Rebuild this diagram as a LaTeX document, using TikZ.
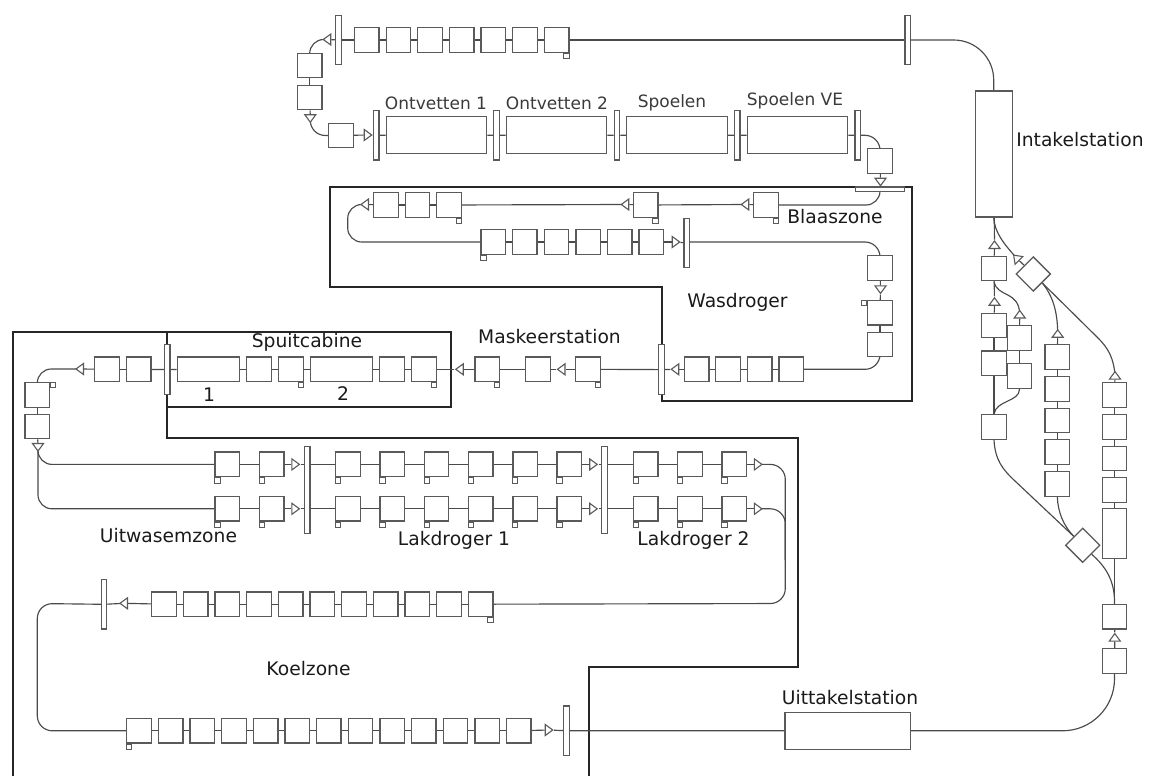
\documentclass[tikz,border=0pt]{standalone}
\usepackage{fontspec}
\setmainfont{DejaVu Sans}
\usetikzlibrary{shapes.geometric,backgrounds,calc}
\definecolor{boxline}{HTML}{5A5A5A}
\definecolor{connline}{HTML}{4A4A4A}
\definecolor{txt}{HTML}{1A1A1A}
\definecolor{txtb}{HTML}{3A3A3A}
\tikzset{
  bx/.style={draw=boxline,line width=1.35pt,fill=white,rectangle,inner sep=0pt,minimum width=24.5pt,minimum height=24.5pt},
  lng/.style={draw=boxline,line width=1.35pt,fill=white,rectangle,inner sep=0pt,minimum width=#1},
  vbar/.style={draw=boxline,line width=1.2pt,fill=white,rectangle,inner sep=0pt,minimum width=5.6pt,minimum height=49.5pt},
  tabbox/.style={draw=boxline,line width=1pt,fill=white,rectangle,inner sep=0pt,minimum size=5.2pt},
  tri/.style={draw=boxline,line width=1.1pt,fill=white,isosceles triangle,isosceles triangle stretches,inner sep=0pt,minimum height=7.5pt,minimum width=11pt},
  dia/.style={draw=boxline,line width=1.3pt,fill=white,diamond,aspect=1,inner sep=0pt,minimum width=34.6pt,minimum height=34.6pt},
  conn/.style={draw=connline,line width=1.15pt},
  frame/.style={draw=black!85,line width=2pt,line join=miter},
  lbl/.style={inner sep=0pt,text=txt,font=\fontsize{18.7}{22}\selectfont},
  lbltop/.style={inner sep=0pt,text=txtb,font=\fontsize{17}{20}\selectfont}
}
\begin{document}
\begin{tikzpicture}[x=1pt,y=-1pt]
\useasboundingbox (0,0) rectangle (1155,776);
% top row
\foreach \i in {0,...,6} \node[bx] (T\i) at ({366.8+31.63*\i},40) {};
\node[tabbox,anchor=north east] (Ttab) at (T6.south east) {};
\node[vbar] (BTL) at (338.3,40) {};
\node[vbar] (BTR) at (907.8,40) {};
\node[tri,rotate=180] (tT) at (328,39.5) {};
\node[bx] (L1) at (309.7,65.5) {};
\node[bx] (L2) at (309.7,97.5) {};
\node[tri,rotate=270] (tL) at (310.3,117.5) {};
\node[bx] (P0) at (341,135.5) {};
\node[tri,rotate=0] (tP) at (367,135) {};
% degreasing line
\node[vbar] (B1) at (376.2,135.3) {};
\node[lng=100.4pt,minimum height=37pt] (O1) at (436.5,135.2) {};
\node[vbar] (B2) at (496.5,135.3) {};
\node[lng=100.4pt,minimum height=37pt] (O2) at (556.5,135.2) {};
\node[vbar] (B3) at (617,135.3) {};
\node[lng=100.4pt,minimum height=37pt] (O3) at (677,135.2) {};
\node[vbar] (B4) at (737.2,135.3) {};
\node[lng=100.4pt,minimum height=37pt] (O4) at (797.5,135.2) {};
\node[vbar] (B5) at (857.8,135.3) {};
\node[bx] (Q0) at (880,161) {};
\node[tri,rotate=270] (tQ) at (880.5,181) {};
\node[draw=boxline,line width=1.2pt,fill=white,rectangle,inner sep=0pt,minimum width=49.4pt,minimum height=4.4pt] (HB) at (880,189.2) {};
% Blaaszone rows
\node[bx] (W1) at (766,205) {};
\node[tabbox,anchor=north east] (W1tab) at (W1.south east) {};
\node[tri,rotate=180] (tW1) at (746,204.5) {};
\node[bx] (W2) at (645.7,205) {};
\node[tabbox,anchor=north east] (W2tab) at (W2.south east) {};
\node[tri,rotate=180] (tW2) at (626,204.5) {};
\node[bx] (W3) at (449,205) {};
\node[tabbox,anchor=north east] (W3tab) at (W3.south east) {};
\node[bx] (W4) at (417.5,205) {};
\node[bx] (W5) at (386,205) {};
\node[tri,rotate=180] (tW5) at (365.7,204.5) {};
\foreach \i in {0,...,5} \node[bx] (X\i) at ({493.3+31.6*\i},242) {};
\node[tabbox,anchor=north west] (Xtab) at (X0.south west) {};
\node[tri,rotate=0] (tX) at (675,242) {};
\node[vbar] (BX) at (686.8,243) {};
\node[bx] (Y1) at (880,268) {};
\node[tri,rotate=270] (tY) at (880.5,288.7) {};
\node[bx] (Y2) at (880,312.7) {};
\node[tabbox,anchor=north east] (Y2tab) at (Y2.north west) {};
\node[bx] (Y3) at (880,344.5) {};
\foreach \i/\xx in {0/791.3,1/759.7,2/728,3/696.7} \node[bx] (Z\i) at (\xx,369.3) {};
\node[tri,rotate=180] (tZ) at (676,369.3) {};
\node[vbar] (BZ) at (661.3,369.6) {};
% Maskeerstation
\node[bx] (M1) at (588,369.3) {};
\node[tabbox,anchor=north east] (M1tab) at (M1.south east) {};
\node[tri,rotate=180] (tM1) at (562.2,369.3) {};
\node[bx] (M2) at (538,369.3) {};
\node[bx] (M3) at (487.3,369.3) {};
\node[tabbox,anchor=north east] (M3tab) at (M3.south east) {};
\node[tri,rotate=180] (tM3) at (460.5,369.3) {};
% Spuitcabine
\node[bx] (S6) at (424,369.3) {};
\node[tabbox,anchor=north east] (S6tab) at (S6.south east) {};
\node[bx] (S5) at (392,369.3) {};
\node[lng=62pt,minimum height=24.5pt] (S4) at (341.3,369.3) {};
\node[bx] (S3) at (291,369.3) {};
\node[tabbox,anchor=north east] (S3tab) at (S3.south east) {};
\node[bx] (S2) at (259,369.3) {};
\node[lng=62.4pt,minimum height=24.5pt] (S1) at (208.5,369.3) {};
\node[vbar] (BS) at (167.2,369.6) {};
\node[bx] (V1) at (138.7,369.3) {};
\node[bx] (V2) at (107,369.3) {};
\node[tri,rotate=180] (tV) at (80.7,369) {};
\node[bx] (D1) at (37.3,395) {};
\node[tabbox,anchor=north west] (D1tab) at (D1.north east) {};
\node[bx] (D2) at (37.3,426.5) {};
\node[tri,rotate=270] (tD) at (38,446.3) {};
% Uitwasem / Lakdroger rows
\foreach \r/\yy in {a/464.4,b/508.8} {
  \node[bx] (\r U1) at (227.3,\yy) {};
  \node[bx] (\r U2) at (271.7,\yy) {};
  \node[tabbox,anchor=north west] (\r U1tab) at (\r U1.south west) {};
  \node[tabbox,anchor=north west] (\r U2tab) at (\r U2.south west) {};
  \node[tri,rotate=0] (\r tU) at (294.7,\yy) {};
  \foreach \i in {0,...,5} {
    \node[bx] (\r L\i) at ({348+44.27*\i},\yy) {};
    \node[tabbox,anchor=north west] (\r Ltab\i) at (\r L\i.south west) {};
  }
  \node[tri,rotate=0] (\r tL) at (592.5,\yy) {};
  \foreach \i/\xx in {0/645.7,1/690,2/734.3} {
    \node[bx] (\r K\i) at (\xx,\yy) {};
    \node[tabbox,anchor=north west] (\r Ktab\i) at (\r K\i.south west) {};
  }
  \node[tri,rotate=0] (\r tK) at (757.2,\yy) {};
}
\node[draw=boxline,line width=1.2pt,fill=white,rectangle,inner sep=0pt,minimum width=5.6pt,minimum height=87.4pt] (BU) at (307.1,490) {};
\node[draw=boxline,line width=1.2pt,fill=white,rectangle,inner sep=0pt,minimum width=5.6pt,minimum height=87.4pt] (BL) at (604.3,490) {};
% Koelzone
\foreach \i in {0,...,10} \node[bx] (C\i) at ({164+31.67*\i},604.2) {};
\node[tabbox,anchor=north east] (Ctab) at (C10.south east) {};
\node[tri,rotate=180] (tC) at (124.7,603.3) {};
\node[vbar] (BC) at (103.9,604.3) {};
\foreach \i in {0,...,12} \node[bx] (E\i) at ({139+31.65*\i},730.8) {};
\node[tabbox,anchor=north west] (Etab) at (E0.south west) {};
\node[tri,rotate=0] (tE) at (548,730) {};
\node[vbar] (BE) at (566.4,730.7) {};
\node[lng=125.7pt,minimum height=37pt] (UI) at (847.9,730.8) {};
% right side
\node[lng=37pt,minimum height=126pt] (IN) at (993.7,154) {};
\node[tri,rotate=90] (tA) at (994.5,245.7) {};
\node[bx] (A) at (994,268.5) {};
\node[tri,rotate=135] (tN) at (1017,258.5) {};
\node[dia] (DA) at (1033.3,274) {};
\node[tri,rotate=90] (tB) at (994.5,302.5) {};
\node[bx] (LB) at (994,325.5) {};
\node[bx] (LC) at (994,363.3) {};
\node[tri,rotate=90] (tF) at (1019.7,315.2) {};
\node[bx] (F1) at (1019.5,338) {};
\node[bx] (F2) at (1019.5,376) {};
\node[bx] (LD) at (994,427) {};
\node[tri,rotate=90] (tG) at (1057.7,334.5) {};
\foreach \i/\yy in {0/357,1/389,2/420.5,3/452,4/484} \node[bx] (G\i) at (1057.3,\yy) {};
\node[tri,rotate=90] (tR) at (1115,376.3) {};
\foreach \i/\yy in {0/395,1/427,2/458.5,3/490} \node[bx] (R\i) at (1114.5,\yy) {};
\node[lng=24.5pt,minimum height=50pt] (RL) at (1114.5,533.3) {};
\node[dia] (DB) at (1082.7,545.3) {};
\node[bx] (RB1) at (1114.5,616.7) {};
\node[tri,rotate=90] (tRB) at (1114.8,638.3) {};
\node[bx] (RB0) at (1114.5,661) {};
% labels
\node[lbltop] (l1) at (436,103) {Ontvetten 1};
\node[lbltop] (l2) at (557,103) {Ontvetten 2};
\node[lbltop] (l3) at (672,103) {Spoelen};
\node[lbltop] (l4) at (795,101) {Spoelen VE};
\node[lbl] (l5) at (835,217) {Blaaszone};
\node[lbl] (l6) at (737.5,302) {Wasdroger};
\node[lbl] (l7) at (549.5,337) {Maskeerstation};
\node[lbl] (l8) at (307,342) {Spuitcabine};
\node[lbl] (l9) at (209,395) {1};
\node[lbl] (l10) at (343,394) {2};
\node[lbl] (l11) at (168.5,536) {Uitwasemzone};
\node[lbl] (l12) at (454,540) {Lakdroger 1};
\node[lbl] (l13) at (693.5,540) {Lakdroger 2};
\node[lbl] (l14) at (308.5,669) {Koelzone};
\node[lbl] (l15) at (850,698) {Uittakelstation};
\node[lbl] (l16) at (1080,140) {Intakelstation};
% corner helpers
\coordinate (cW) at (347.7,204.5);
\coordinate (cWb) at (347.7,242);
\coordinate (cY) at (880,242);
\coordinate (cC1) at (785.3,464.4);
\coordinate (cC2) at (785.3,508.8);
\coordinate (cC3) at (785.3,603.5);
\coordinate (cC4) at (785.3,560);
\coordinate (cL) at (37.3,603.5);
\coordinate (cLb) at (37.3,730.8);
\coordinate (cUa) at (38,464.4);
\coordinate (cUb) at (38,508.8);
\coordinate (cR1) at (1098,338);
\coordinate (cR2) at (1015,481);
\begin{scope}[on background layer]
  % thick frames
  \draw[frame] (661.7,286.7) -- (330,286.7) -- (330,186.7) -- (912,186.7) -- (912,401) -- (661.7,401) -- cycle;
  \draw[frame] (166.7,332.3) rectangle (451.3,406.7);
  \draw[frame] (12.6,776) -- (12.6,332.3) -- (166.7,332.3) -- (166.7,438.3) -- (798.3,438.3) -- (798.3,666.7) -- (589,666.7) -- (589,776);
  % top row
  \draw[conn] (BTR) -- (T6);
  \foreach \i [count=\j from 1] in {0,...,5} \draw[conn] (T\i) -- (T\j);
  \draw[conn] (T0) -- (BTL);
  \draw[conn] (BTL) -- (tT);
  \draw[conn,rounded corners=14pt] (tT.center) -| (L1);
  \draw[conn] (L1) -- (L2);
  \draw[conn] (L2) -- (tL);
  \draw[conn,rounded corners=15pt] (tL.center) |- (P0);
  \draw[conn] (P0) -- (tP);
  \draw[conn] (tP) -- (B1);
  \draw[conn] (B1) -- (O1);
  \draw[conn] (O1) -- (B2);
  \draw[conn] (B2) -- (O2);
  \draw[conn] (O2) -- (B3);
  \draw[conn] (B3) -- (O3);
  \draw[conn] (O3) -- (B4);
  \draw[conn] (B4) -- (O4);
  \draw[conn] (O4) -- (B5);
  \draw[conn,rounded corners=15pt] (B5.center) -| (Q0);
  \draw[conn] (Q0) -- (tQ);
  \draw[conn] (tQ) -- (HB);
  \draw[conn,rounded corners=14pt] (HB.center) |- (W1);
  \draw[conn] (W1) -- (tW1);
  \draw[conn] (tW1.center) -- (W2.center);
  \draw[conn] (W2) -- (tW2);
  \draw[conn] (tW2.center) -- (W3.center);
  \draw[conn] (W3) -- (W4);
  \draw[conn] (W4) -- (W5);
  \draw[conn] (W5) -- (tW5);
  \draw[conn,rounded corners=14pt] (tW5.center) -- (cW) -- (cWb) -- (X0.center);
  \foreach \i [count=\j from 1] in {0,...,4} \draw[conn] (X\i) -- (X\j);
  \draw[conn] (X5) -- (tX);
  \draw[conn] (tX) -- (BX);
  \draw[conn,rounded corners=15pt] (BX.center |- cY) -- (cY) -- (Y1.center);
  \draw[conn] (Y1) -- (tY);
  \draw[conn] (tY) -- (Y2);
  \draw[conn] (Y2) -- (Y3);
  \draw[conn,rounded corners=15pt] (Y3.center) |- (Z0.center);
  \foreach \i [count=\j from 1] in {0,...,2} \draw[conn] (Z\i) -- (Z\j);
  \draw[conn] (Z3) -- (tZ);
  \draw[conn] (tZ) -- (BZ);
  \draw[conn] (BZ) -- (M1);
  \draw[conn] (M1) -- (tM1);
  \draw[conn] (tM1) -- (M2);
  \draw[conn] (M2) -- (M3);
  \draw[conn] (M3) -- (tM3);
  \draw[conn] (tM3) -- (S6);
  \draw[conn] (S6) -- (S5);
  \draw[conn] (S5) -- (S4);
  \draw[conn] (S4) -- (S3);
  \draw[conn] (S3) -- (S2);
  \draw[conn] (S2) -- (S1);
  \draw[conn] (S1) -- (BS);
  \draw[conn] (BS) -- (V1);
  \draw[conn] (V1) -- (V2);
  \draw[conn] (V2) -- (tV);
  \draw[conn,rounded corners=14pt] (tV.center) -| (D1);
  \draw[conn] (D1) -- (D2);
  \draw[conn] (D2) -- (tD);
  \draw[conn,rounded corners=14pt] (tD.center) -- (cUa) -- (aU1.center);
  \draw[conn,rounded corners=14pt] (tD.center) -- (cUb) -- (bU1.center);
  \foreach \r in {a,b} {
    \draw[conn] (\r U1) -- (\r U2);
    \draw[conn] (\r U2) -- (\r tU);
    \draw[conn] (\r tU) -- (BU.west |- \r tU);
    \draw[conn] (BU.east |- \r tU) -- (\r L0);
    \foreach \i [count=\j from 1] in {0,...,4} \draw[conn] (\r L\i) -- (\r L\j);
    \draw[conn] (\r L5) -- (\r tL);
    \draw[conn] (\r tL) -- (BL.west |- \r tL);
    \draw[conn] (BL.east |- \r tL) -- (\r K0);
    \draw[conn] (\r K0) -- (\r K1);
    \draw[conn] (\r K1) -- (\r K2);
    \draw[conn] (\r K2) -- (\r tK);
  }
  \draw[conn,rounded corners=15pt] (atK.center) -- (cC1) -- (cC4);
  \draw[conn,rounded corners=15pt] (btK.center) -- (cC2) -- (cC3) -- (C10.center);
  \foreach \i [count=\j from 1] in {0,...,9} \draw[conn] (C\i) -- (C\j);
  \draw[conn] (C0) -- (tC);
  \draw[conn] (tC.center) -- (BC.center);
  \draw[conn,rounded corners=15pt] (BC.center) -- (cL) -- (cLb) -- (E0.center);
  \foreach \i [count=\j from 1] in {0,...,11} \draw[conn] (E\i) -- (E\j);
  \draw[conn] (E12) -- (tE);
  \draw[conn] (tE) -- (BE);
  \draw[conn] (BE) -- (UI);
  \draw[conn,rounded corners=52pt] (UI.center) -| (RB0.center);
  \draw[conn] (RB0) -- (tRB);
  \draw[conn] (tRB) -- (RB1);
  \draw[conn] (RB1) -- (RL);
  \draw[conn] (RL) -- (R3);
  \draw[conn] (R3) -- (R2);
  \draw[conn] (R2) -- (R1);
  \draw[conn] (R1) -- (R0);
  \draw[conn] (R0) -- (tR);
  \draw[conn] (tR.center) .. controls (1114,358) and (1108,348) .. (cR1) -- (DA.south east);
  \draw[conn] (G4) -- (G3);
  \draw[conn] (G3) -- (G2);
  \draw[conn] (G2) -- (G1);
  \draw[conn] (G1) -- (G0);
  \draw[conn] (G0) -- (tG);
  \draw[conn] (tG.center) .. controls (1057.7,310) and (1052,295) .. (DA.south east);
  \draw[conn] (DA) -- (tN);
  \draw[conn] (tN.center) .. controls (1003,243) and (994.6,232) .. (IN.south);
  \draw[conn] (A) -- (tA);
  \draw[conn] (tA) -- (IN);
  \draw[conn] (LB) -- (tB);
  \draw[conn] (tB) -- (A);
  \draw[conn] (LC) -- (LB);
  \draw[conn] (LD) -- (LC);
  \draw[conn] (F1) -- (F2);
  \draw[conn] (F1) -- (tF);
  \draw[conn] (tF.center) .. controls (1019.7,290) and (997,298) .. (A.south);
  \draw[conn] (F2.south) .. controls (1019.7,402) and (996,400) .. (LD.north);
  \draw[conn] (LD.south) .. controls (995,460) and (1003,470) .. (cR2) -- (DB.north west);
  \draw[conn] (G4.south) .. controls (1058,512) and (1063,525) .. (DB.north west);
  \draw[conn] (DB.south east) .. controls (1105,566) and (1115,580) .. (RB1.north);
  \draw[conn,rounded corners=40pt] (BTR.center) -| (IN.north);
\end{scope}
\end{tikzpicture}
\end{document}
